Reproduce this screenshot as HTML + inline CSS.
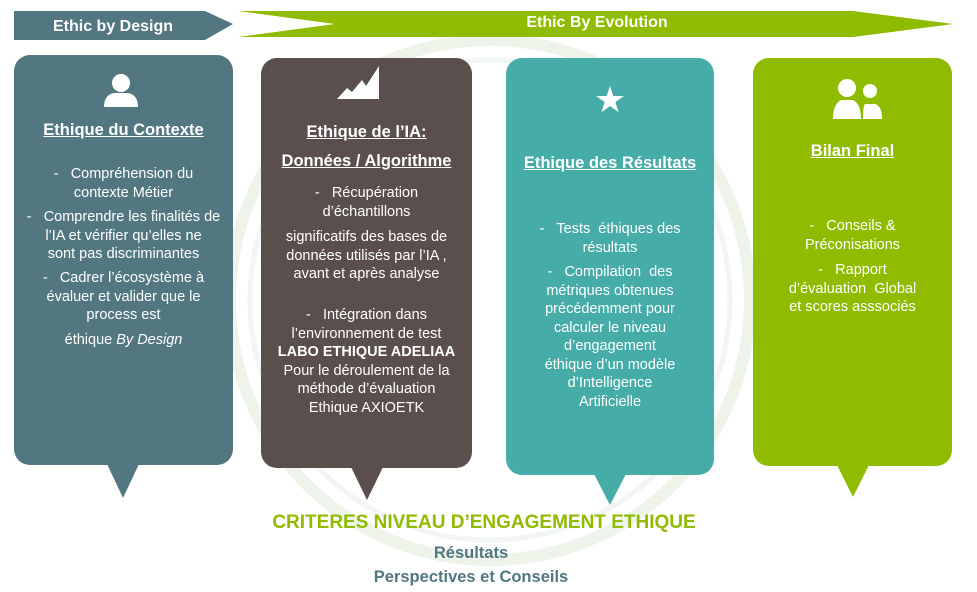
<!DOCTYPE html>
<html><head><meta charset="utf-8"><style>
body{margin:0;width:977px;height:592px;background:#fff;position:relative;overflow:hidden;font-family:"Liberation Sans",sans-serif}
.box{position:absolute;border-radius:16px;color:#fff;text-align:center;font-size:14.5px;line-height:18.5px}
.t{position:absolute;left:-10px;right:-10px;font-weight:bold;text-decoration:underline;font-size:16.5px;line-height:20px}
.p{position:absolute;left:-6px;right:-6px}
.tail{position:absolute;width:0;height:0;border-left:16px solid transparent;border-right:16px solid transparent}
</style></head><body>
<svg width="977" height="592" style="position:absolute;left:0;top:0">
<circle cx="490" cy="300" r="260" fill="none" stroke="#eef4ea" stroke-width="12"/>
<circle cx="490" cy="300" r="240" fill="none" stroke="#f2f5f5" stroke-width="5"/>
<polygon points="14,11 205,11 233,24 205,40 14,40" fill="#537780"/>
<polygon points="238,11 853,11 953,24 853,37 238,37 335,24" fill="#8fbc00"/>
<text x="113" y="31" fill="#fff" font-size="16" font-weight="bold" text-anchor="middle" font-family="Liberation Sans">Ethic by Design</text>
<text x="597" y="27" fill="#fff" font-size="16" font-weight="bold" text-anchor="middle" font-family="Liberation Sans">Ethic By Evolution</text>
</svg>

<div class="box" style="left:14px;top:55px;width:219px;height:410px;background:#537780">
<svg style="position:absolute;left:88px;top:18px" width="38" height="34"><circle cx="19" cy="10" r="9" fill="#fff"/><path d="M2 34 Q2 22 12 20 L26 20 Q36 22 36 34Z" fill="#fff"/></svg>
<div class="t" style="top:65px">Ethique du Contexte</div>
<div class="p" style="top:110px">-&nbsp;&nbsp;&nbsp;Compréhension du<br>contexte Métier</div>
<div class="p" style="top:153px">-&nbsp;&nbsp;&nbsp;Comprendre les finalités de<br>l’IA et vérifier qu’elles ne<br>sont pas discriminantes</div>
<div class="p" style="top:214px">-&nbsp;&nbsp;&nbsp;Cadrer l’écosystème à<br>évaluer et valider que le<br>process est</div>
<div class="p" style="top:276px">éthique <i>By Design</i></div>
</div>
<div class="tail" style="left:107px;top:464px;border-top:34px solid #537780"></div>

<div class="box" style="left:261px;top:58px;width:211px;height:410px;background:#5a4f4d">
<svg style="position:absolute;left:76px;top:8px" width="44" height="34"><path d="M0 33 L10 22 L15 26 L25 14 L29 20 L42 0 L42 33Z" fill="#fff"/></svg>
<div class="t" style="top:64px">Ethique de l’IA:</div>
<div class="t" style="top:93px">Données / Algorithme</div>
<div class="p" style="top:126px">-&nbsp;&nbsp;&nbsp;Récupération<br>d’échantillons</div>
<div class="p" style="top:170px">significatifs des bases de<br>données utilisés par l’IA ,<br>avant et après analyse</div>
<div class="p" style="top:248px">-&nbsp;&nbsp;&nbsp;Intégration dans<br>l’environnement de test<br><b>LABO ETHIQUE ADELIAA</b><br>Pour le déroulement de la<br>méthode d’évaluation<br>Ethique AXIOETK</div>
</div>
<div class="tail" style="left:351px;top:467px;border-top:33px solid #5a4f4d"></div>

<div class="box" style="left:506px;top:58px;width:208px;height:417px;background:#45aca8">
<div style="position:absolute;left:0;right:0;top:22px;font-size:36px;line-height:40px">★</div>
<div class="t" style="top:95px">Ethique des Résultats</div>
<div class="p" style="top:162px">-&nbsp;&nbsp;&nbsp;Tests&nbsp; éthiques des<br>résultats</div>
<div class="p" style="top:205px">-&nbsp;&nbsp;&nbsp;Compilation&nbsp; des<br>métriques obtenues<br>précédemment pour<br>calculer le niveau<br>d’engagement<br>éthique d’un modèle<br>d’Intelligence<br>Artificielle</div>
</div>
<div class="tail" style="left:594px;top:474px;border-top:31px solid #45aca8"></div>

<div class="box" style="left:753px;top:58px;width:199px;height:408px;background:#8fbc00">
<svg style="position:absolute;left:80px;top:18px" width="52" height="44"><circle cx="14" cy="12" r="9" fill="#fff"/><path d="M0 43 Q0 28 8 24 L20 24 Q28 28 28 43Z" fill="#fff"/><circle cx="37" cy="15" r="7" fill="#fff"/><path d="M30 43 Q30 30 32 28 L42 28 Q49 30 49 43Z" fill="#fff"/></svg>
<div class="t" style="top:83px">Bilan Final</div>
<div class="p" style="top:159px">-&nbsp;&nbsp;&nbsp;Conseils &amp;<br>Préconisations</div>
<div class="p" style="top:203px">-&nbsp;&nbsp;&nbsp;Rapport<br>d’évaluation&nbsp; Global<br>et scores asssociés</div>
</div>
<div class="tail" style="left:837px;top:465px;border-top:32px solid #8fbc00"></div>

<div style="position:absolute;left:0;width:968px;top:512px;text-align:center;color:#8fbc00;font-weight:bold;font-size:19px">CRITERES NIVEAU D’ENGAGEMENT ETHIQUE</div>
<div style="position:absolute;left:0;width:942px;top:544px;text-align:center;color:#537780;font-weight:bold;font-size:16.5px">Résultats</div>
<div style="position:absolute;left:0;width:942px;top:568px;text-align:center;color:#537780;font-weight:bold;font-size:16.5px">Perspectives et Conseils</div>
</body></html>
